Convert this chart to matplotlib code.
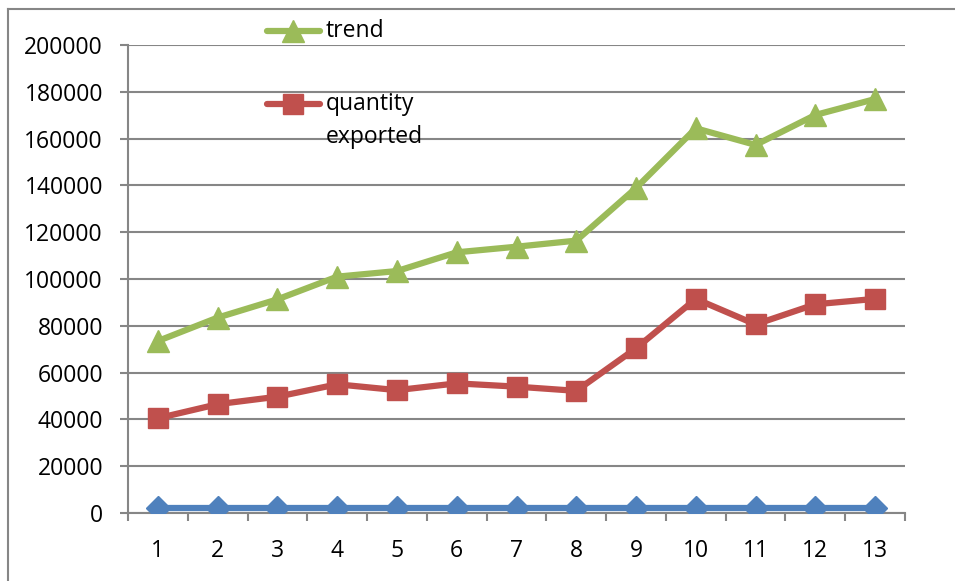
import matplotlib
matplotlib.use("Agg")
import matplotlib.pyplot as plt
from matplotlib.lines import Line2D
import numpy as np

# Data
periods = list(range(1, 14))
baseline = [2000] * 13
quantity_exported = [40500, 46500, 49700, 55000, 52500, 55400, 54000,
                     52200, 70400, 91500, 80600, 89200, 91500]
trend = [73500, 83500, 91300, 101000, 103400, 111400, 113800,
         116400, 138900, 164400, 157300, 170100, 176900]
y_ticks = [0, 20000, 40000, 60000, 80000, 100000, 120000, 140000,
           160000, 180000, 200000]

BLUE = "#4F81BD"
RED = "#C0504D"
GREEN = "#9BBB59"
GRID = "#868686"
FONT = "Open Sans"
FS = 16.5
LW = 4.5

W, H = 955, 581
fig = plt.figure(figsize=(W / 100, H / 100), dpi=100)
fig.patch.set_facecolor("white")


def fx(x):
    return x / W


def fy(y):
    return 1 - y / H


ax = fig.add_axes([fx(128), fy(513), fx(905) - fx(128), fy(45) - fy(513)])

ax.plot(periods, baseline, color=BLUE, lw=LW, marker="D", ms=12.5,
        solid_capstyle="round", zorder=3)
ax.plot(periods, quantity_exported, color=RED, lw=LW, marker="s", ms=14.5,
        solid_joinstyle="round", zorder=4)
ax.plot(periods, trend, color=GREEN, lw=LW, marker="^", ms=16,
        solid_joinstyle="round", zorder=5)

ax.set_xlim(0.5, 13.5)
ax.set_ylim(0, 200000)

# y axis: gridlines extended by outward ticks
ax.set_yticks(y_ticks)
ax.set_yticklabels([str(v) for v in y_ticks])
ax.yaxis.grid(True, color=GRID, lw=1.5)
ax.set_axisbelow(True)
ax.tick_params(axis="y", length=6, width=1.5, color=GRID, pad=12,
               labelsize=FS)

# x axis: tick marks between categories, labels at category centres
ax.set_xticks(np.arange(0.5, 14.0, 1.0))
ax.set_xticklabels([])
ax.set_xticks(periods, minor=True)
ax.set_xticklabels([str(p) for p in periods], minor=True)
ax.tick_params(axis="x", which="major", length=6, width=1.5, color=GRID)
ax.tick_params(axis="x", which="minor", length=0, pad=19, labelsize=FS)

for lab in ax.get_yticklabels() + ax.get_xticklabels(minor=True):
    lab.set_fontfamily(FONT)

for side in ("top", "right"):
    ax.spines[side].set_visible(False)
for side in ("left", "bottom"):
    ax.spines[side].set_color(GRID)
    ax.spines[side].set_linewidth(1.5)

# Legend entries
def legend_key(y, color, marker, ms):
    fig.add_artist(Line2D([fx(267), fx(320)], [fy(y), fy(y)], color=color,
                          lw=LW, transform=fig.transFigure,
                          solid_capstyle="round"))
    fig.add_artist(Line2D([fx(293)], [fy(y)], color=color, marker=marker,
                          ms=ms, lw=0, transform=fig.transFigure))


legend_key(31, GREEN, "^", 16)
fig.text(fx(326), fy(31), "trend", fontsize=FS, family=FONT,
         va="center", ha="left")
legend_key(104, RED, "s", 14.5)
fig.text(fx(326), fy(104), "quantity", fontsize=FS, family=FONT,
         va="center", ha="left")
fig.text(fx(326), fy(137), "exported", fontsize=FS, family=FONT,
         va="center", ha="left")

# Chart frame
fig.add_artist(Line2D([fx(8), fx(8)], [fy(9), 0], color=GRID, lw=1.5,
                      transform=fig.transFigure))
fig.add_artist(Line2D([fx(8), 1], [fy(9), fy(9)], color=GRID, lw=1.5,
                      transform=fig.transFigure))

fig.savefig("out.png", dpi=100)
